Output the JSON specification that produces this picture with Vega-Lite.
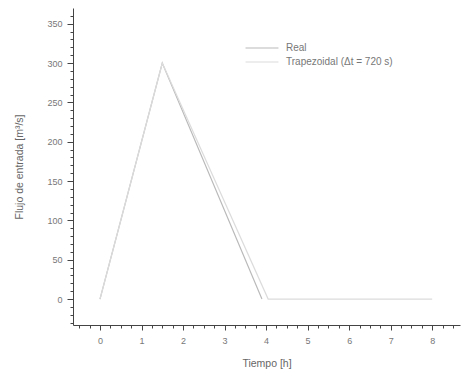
{
  "$schema": "https://vega.github.io/schema/vega-lite/v6.json",
  "autosize": "none",
  "width": 387,
  "height": 317,
  "padding": {"left": 73, "top": 8, "right": 2, "bottom": 52},
  "background": "white",
  "config": {
    "view": {"stroke": null},
    "font": "Liberation Sans",
    "axis": {"grid": false, "domainColor": "#444", "tickColor": "#444", "labelColor": "#777", "titleColor": "#666", "labelFont": "Liberation Sans", "titleFont": "Liberation Sans", "labelFontSize": 9, "titleFontSize": 10.5, "titleFontWeight": "normal"}
  },
  "data": {
    "values": [
      {"t": 0, "q": 0, "serie": "Real", "o": 0},
      {"t": 1.5, "q": 300, "serie": "Real", "o": 1},
      {"t": 3.9, "q": 0, "serie": "Real", "o": 2},
      {"t": 0, "q": 0, "serie": "Trapezoidal (Δt = 720 s)", "o": 0},
      {"t": 1.5, "q": 300, "serie": "Trapezoidal (Δt = 720 s)", "o": 1},
      {"t": 4.05, "q": 0, "serie": "Trapezoidal (Δt = 720 s)", "o": 2},
      {"t": 8, "q": 0, "serie": "Trapezoidal (Δt = 720 s)", "o": 3}
    ]
  },
  "layer": [
    {
      "mark": {"type": "line", "strokeWidth": 1.2},
      "encoding": {
        "x": {"field": "t", "type": "quantitative", "scale": {"domain": [-0.65, 8.67], "nice": false, "zero": false},
          "axis": {"title": "Tiempo [h]", "values": [0,1,2,3,4,5,6,7,8], "tickSize": 5, "labelPadding": 6, "titlePadding": 13, "labelFlush": false}},
        "y": {"field": "q", "type": "quantitative", "scale": {"domain": [-33, 370], "nice": false, "zero": false},
          "axis": {"title": "Flujo de entrada [m³/s]", "values": [0,50,100,150,200,250,300,350], "tickSize": 6, "labelPadding": 5, "titlePadding": 22, "labelFlush": false}},
        "order": {"field": "o"},
        "color": {"field": "serie", "type": "nominal",
          "scale": {"domain": ["Real", "Trapezoidal (Δt = 720 s)"], "range": ["#bababa", "#dcdcdc"]},
          "legend": {"title": null, "orient": "none", "legendX": 180, "legendY": 31, "symbolType": "M-2,0H2", "symbolSize": 272, "symbolStrokeWidth": 1.2, "labelFontSize": 10, "labelColor": "#777", "labelFont": "Liberation Sans", "rowPadding": 0, "labelOffset": 15}}
      }
    },
    {
      "mark": {"type": "point", "opacity": 0},
      "encoding": {
        "x": {"field": "t", "type": "quantitative", "axis": {"values": [-0.5,-0.25,0.25,0.5,0.75,1.25,1.5,1.75,2.25,2.5,2.75,3.25,3.5,3.75,4.25,4.5,4.75,5.25,5.5,5.75,6.25,6.5,6.75,7.25,7.5,7.75,8.25,8.5], "orient": "bottom", "labels": false, "domain": false, "tickSize": 3, "title": null}},
        "y": {"field": "q", "type": "quantitative", "axis": {"values": [-30,-20,-10,10,20,30,40,60,70,80,90,110,120,130,140,160,170,180,190,210,220,230,240,260,270,280,290,310,320,330,340,360], "orient": "left", "labels": false, "domain": false, "tickSize": 3, "title": null}}
      }
    }
  ],
  "resolve": {"axis": {"x": "independent", "y": "independent"}}
}
